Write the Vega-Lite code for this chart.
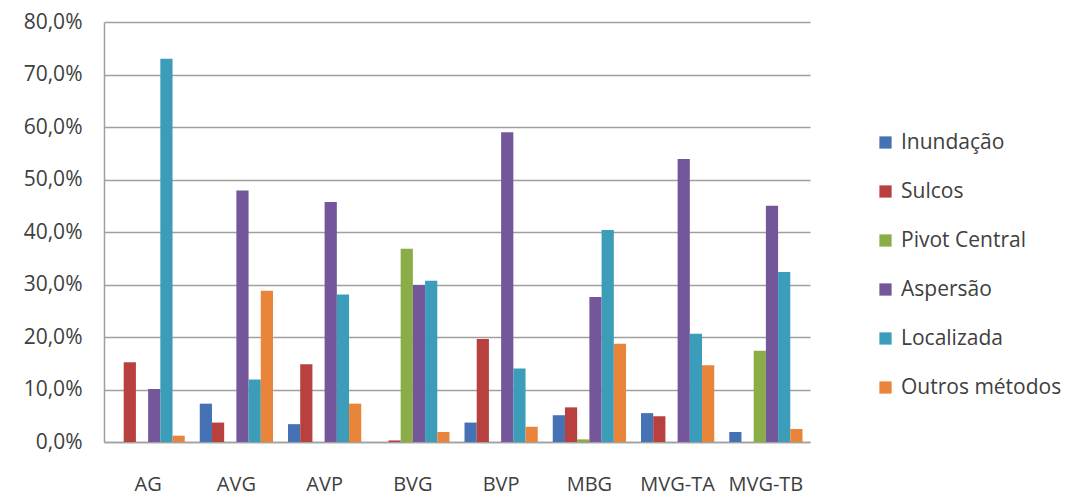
{
  "$schema": "https://vega.github.io/schema/vega-lite/v6.json",
  "autosize": "none",
  "width": 706,
  "height": 420,
  "padding": {"left": 104, "top": 22, "right": 262, "bottom": 53},
  "background": "white",
  "config": {
    "font": "Open Sans",
    "view": {"stroke": null},
    "axis": {"labelFont": "Open Sans", "labelColor": "#404040"},
    "legend": {"labelFont": "Open Sans", "labelColor": "#404040"}
  },
  "data": {
    "values": [
      {"cat": "AG", "metodo": "Inundação", "v": 0},
      {"cat": "AG", "metodo": "Sulcos", "v": 15.2},
      {"cat": "AG", "metodo": "Pivot Central", "v": 0},
      {"cat": "AG", "metodo": "Aspersão", "v": 10.1},
      {"cat": "AG", "metodo": "Localizada", "v": 73.0},
      {"cat": "AG", "metodo": "Outros métodos", "v": 1.2},
      {"cat": "AVG", "metodo": "Inundação", "v": 7.3},
      {"cat": "AVG", "metodo": "Sulcos", "v": 3.7},
      {"cat": "AVG", "metodo": "Pivot Central", "v": 0},
      {"cat": "AVG", "metodo": "Aspersão", "v": 47.9},
      {"cat": "AVG", "metodo": "Localizada", "v": 11.9},
      {"cat": "AVG", "metodo": "Outros métodos", "v": 28.8},
      {"cat": "AVP", "metodo": "Inundação", "v": 3.4},
      {"cat": "AVP", "metodo": "Sulcos", "v": 14.8},
      {"cat": "AVP", "metodo": "Pivot Central", "v": 0},
      {"cat": "AVP", "metodo": "Aspersão", "v": 45.7},
      {"cat": "AVP", "metodo": "Localizada", "v": 28.1},
      {"cat": "AVP", "metodo": "Outros métodos", "v": 7.3},
      {"cat": "BVG", "metodo": "Inundação", "v": 0},
      {"cat": "BVG", "metodo": "Sulcos", "v": 0.3},
      {"cat": "BVG", "metodo": "Pivot Central", "v": 36.8},
      {"cat": "BVG", "metodo": "Aspersão", "v": 29.9},
      {"cat": "BVG", "metodo": "Localizada", "v": 30.7},
      {"cat": "BVG", "metodo": "Outros métodos", "v": 1.9},
      {"cat": "BVP", "metodo": "Inundação", "v": 3.7},
      {"cat": "BVP", "metodo": "Sulcos", "v": 19.6},
      {"cat": "BVP", "metodo": "Pivot Central", "v": 0},
      {"cat": "BVP", "metodo": "Aspersão", "v": 59.0},
      {"cat": "BVP", "metodo": "Localizada", "v": 14.0},
      {"cat": "BVP", "metodo": "Outros métodos", "v": 2.9},
      {"cat": "MBG", "metodo": "Inundação", "v": 5.1},
      {"cat": "MBG", "metodo": "Sulcos", "v": 6.6},
      {"cat": "MBG", "metodo": "Pivot Central", "v": 0.5},
      {"cat": "MBG", "metodo": "Aspersão", "v": 27.6},
      {"cat": "MBG", "metodo": "Localizada", "v": 40.4},
      {"cat": "MBG", "metodo": "Outros métodos", "v": 18.7},
      {"cat": "MVG-TA", "metodo": "Inundação", "v": 5.5},
      {"cat": "MVG-TA", "metodo": "Sulcos", "v": 4.9},
      {"cat": "MVG-TA", "metodo": "Pivot Central", "v": 0},
      {"cat": "MVG-TA", "metodo": "Aspersão", "v": 53.9},
      {"cat": "MVG-TA", "metodo": "Localizada", "v": 20.6},
      {"cat": "MVG-TA", "metodo": "Outros métodos", "v": 14.6},
      {"cat": "MVG-TB", "metodo": "Inundação", "v": 1.9},
      {"cat": "MVG-TB", "metodo": "Sulcos", "v": 0},
      {"cat": "MVG-TB", "metodo": "Pivot Central", "v": 17.4},
      {"cat": "MVG-TB", "metodo": "Aspersão", "v": 45.0},
      {"cat": "MVG-TB", "metodo": "Localizada", "v": 32.4},
      {"cat": "MVG-TB", "metodo": "Outros métodos", "v": 2.5}
    ]
  },
  "mark": {"type": "bar"},
  "encoding": {
    "x": {
      "field": "cat",
      "type": "nominal",
      "sort": null,
      "scale": {"paddingInner": 0.17, "paddingOuter": 0.085},
      "axis": {
        "title": null,
        "labelAngle": 0,
        "labelFontSize": 20,
        "labelPadding": 32,
        "labelOverlap": false,
        "ticks": false,
        "domainColor": "#a0a0a0",
        "domainWidth": 1.5
      }
    },
    "xOffset": {
      "field": "metodo",
      "type": "nominal",
      "sort": ["Inundação", "Sulcos", "Pivot Central", "Aspersão", "Localizada", "Outros métodos"],
      "scale": {"paddingInner": 0, "paddingOuter": 0}
    },
    "y": {
      "field": "v",
      "type": "quantitative",
      "scale": {"domain": [0, 80], "nice": false},
      "axis": {
        "title": null,
        "values": [0, 10, 20, 30, 40, 50, 60, 70, 80],
        "labelExpr": "replace(format(datum.value, '.1f'), '.', ',') + '%'",
        "labelFontSize": 21,
        "labelPadding": 22,
        "ticks": false,
        "grid": true,
        "gridColor": "#a0a0a0",
        "gridWidth": 1.5,
        "domainColor": "#a0a0a0",
        "domainWidth": 1.5
      }
    },
    "color": {
      "field": "metodo",
      "type": "nominal",
      "scale": {
        "domain": ["Inundação", "Sulcos", "Pivot Central", "Aspersão", "Localizada", "Outros métodos"],
        "range": ["#4472b4", "#b84140", "#8aad48", "#74569a", "#3b9db9", "#e8853a"]
      },
      "legend": {
        "title": null,
        "orient": "none",
        "legendX": 771,
        "legendY": 110,
        "symbolType": "square",
        "symbolSize": 150,
        "labelFontSize": 21,
        "labelLimit": 300,
        "rowPadding": 27,
        "labelOffset": 5
      }
    }
  }
}
